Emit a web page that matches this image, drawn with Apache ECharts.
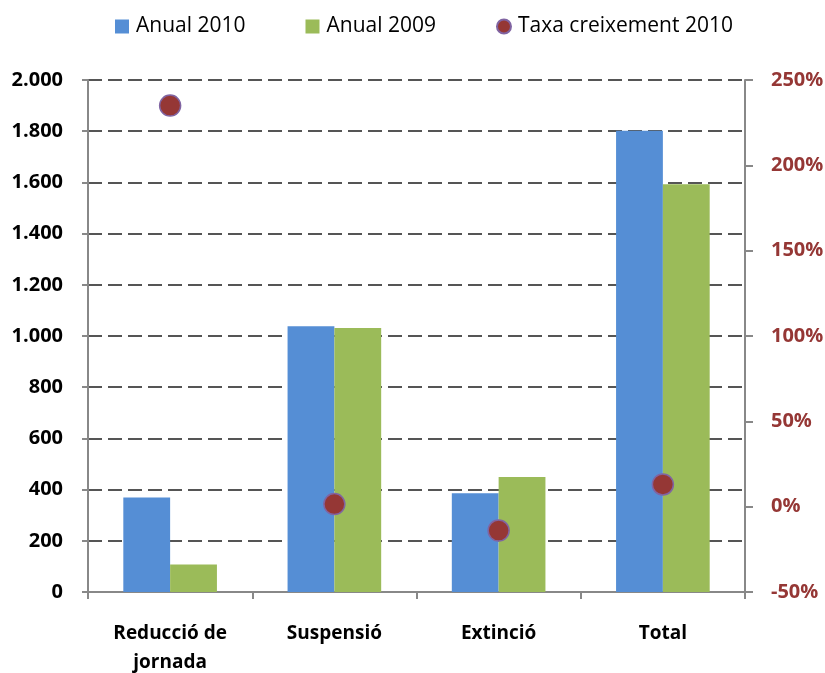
<!DOCTYPE html>
<html><head><meta charset="utf-8">
<script src="https://cdn.jsdelivr.net/npm/echarts@6/dist/echarts.min.js"></script>
<style>html,body{margin:0;padding:0;background:#fff}#c{width:825px;height:673px}</style>
</head><body><div id="c"></div>
<script>
const categories = ['Reducció de\njornada', 'Suspensió', 'Extinció', 'Total'];
const anual2010 = [369, 1038, 386, 1802];
const anual2009 = [107, 1031, 449, 1593];
const taxa2010 = [235, 1.5, -14, 13];
const leftTicks = {min: 0, max: 2000, interval: 200};
const rightTicks = {min: -50, max: 250, interval: 50};

const FONT = "'Open Sans', 'Liberation Sans', sans-serif";
const chart = echarts.init(document.getElementById('c'), null, {renderer: 'canvas'});
chart.setOption({
  animation: false,
  textStyle: {fontFamily: FONT},
  legend: {
    top: 11, left: 110, itemGap: 60, itemWidth: 14, itemHeight: 14,
    textStyle: {fontFamily: FONT, fontSize: 21, color: '#000', padding: [0, 0, 0, 2]},
    data: [
      {name: 'Anual 2010', icon: 'rect'},
      {name: 'Anual 2009', icon: 'rect'},
      {name: 'Taxa creixement 2010', icon: 'circle'}
    ]
  },
  grid: {left: 88, right: 80, top: 80, bottom: 81, containLabel: false, outerBoundsMode: 'none'},
  xAxis: {
    type: 'category', data: categories,
    axisLine: {lineStyle: {color: '#888', width: 2}},
    axisTick: {show: true, length: 7, lineStyle: {color: '#888', width: 2}},
    axisLabel: {fontFamily: FONT, fontSize: 19, fontWeight: 'bold', color: '#000', margin: 27, lineHeight: 29}
  },
  yAxis: [
    {
      type: 'value', min: leftTicks.min, max: leftTicks.max, interval: leftTicks.interval,
      axisLine: {show: true, lineStyle: {color: '#888', width: 2}},
      axisTick: {show: true, length: 6, lineStyle: {color: '#888', width: 2}},
      splitLine: {show: true, lineStyle: {color: '#555', width: 2, type: [14, 6]}},
      axisLabel: {fontFamily: FONT, fontSize: 20, fontWeight: 'bold', color: '#000', margin: 25,
        formatter: v => v.toLocaleString('de-DE')}
    },
    {
      type: 'value', position: 'right', min: rightTicks.min, max: rightTicks.max, interval: rightTicks.interval,
      axisLine: {show: true, lineStyle: {color: '#888', width: 2}},
      axisTick: {show: true, length: 8, lineStyle: {color: '#888', width: 2}},
      splitLine: {show: false},
      axisLabel: {fontFamily: FONT, fontSize: 20, fontWeight: 'bold', color: '#953735', margin: 26,
        formatter: '{value}%'}
    }
  ],
  series: [
    {name: 'Anual 2010', type: 'bar', data: anual2010, barGap: '0%', barCategoryGap: '43%',
      itemStyle: {color: '#558ED5'}},
    {name: 'Anual 2009', type: 'bar', data: anual2009,
      itemStyle: {color: '#9BBB59'}},
    {name: 'Taxa creixement 2010', type: 'scatter', yAxisIndex: 1, data: taxa2010, symbolSize: 21,
      itemStyle: {color: '#953735', borderColor: '#8064A2', borderWidth: 1.5, opacity: 1}, z: 5}
  ]
});
</script></body></html>
